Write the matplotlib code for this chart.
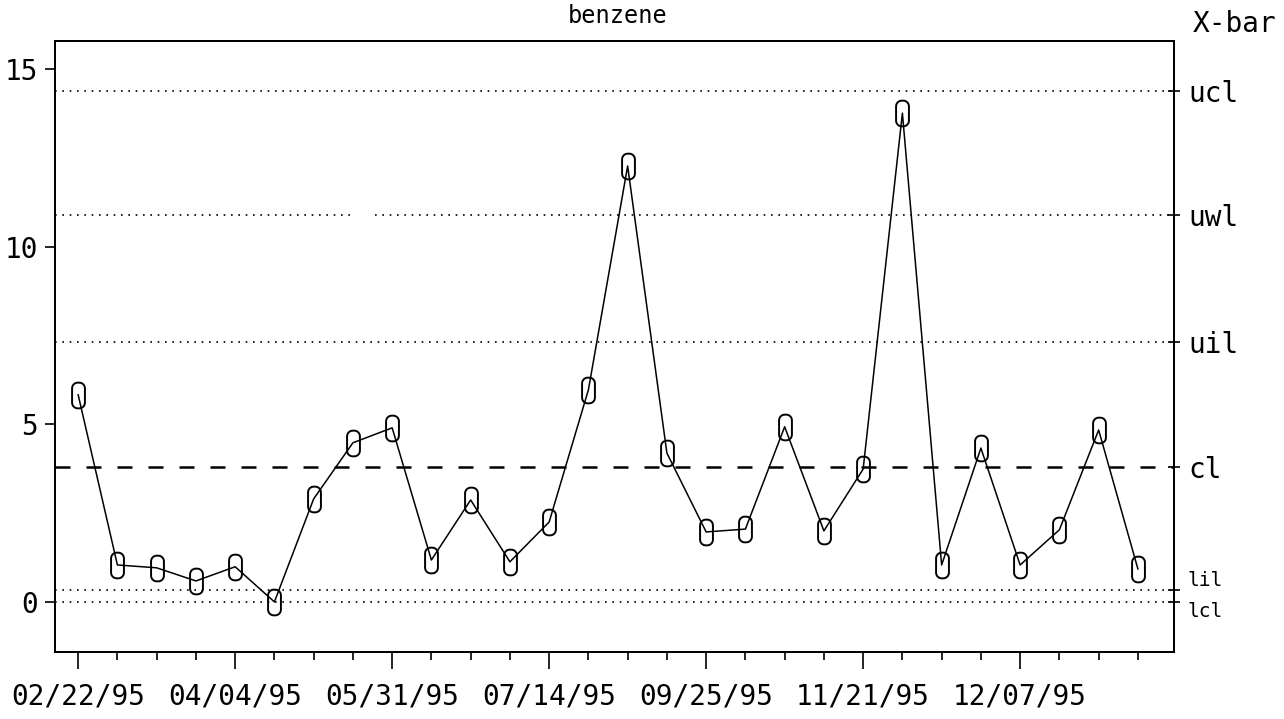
import numpy as np
import matplotlib
matplotlib.use('Agg')
import matplotlib.pyplot as plt
from matplotlib.path import Path

# Datos (benceno, X-bar)
fechas = ['02/22/95', '04/04/95', '05/31/95', '07/14/95', '09/25/95', '11/21/95', '12/07/95']
benceno = [5.83, 1.04, 0.96, 0.59, 0.99, 0.0, 2.9, 4.48, 4.9, 1.18,
           2.87, 1.13, 2.25, 5.97, 12.27, 4.19, 1.97, 2.05, 4.93, 2.0,
           3.74, 13.76, 1.04, 4.33, 1.04, 2.03, 4.84, 0.93]
limites_nombres = ['ucl', 'uwl', 'uil', 'cl', 'lil', 'lcl']
limites_valores = [14.38, 10.89, 7.32, 3.8, 0.34, 0.0]
yticks_izq = [0, 5, 10, 15]


# Marcador tipo "0" de plotter: rectangulo alto con esquinas redondeadas
def marcador_redondeado(w=0.5, h=1.0, r=0.22, n=8):
    pts = []
    centros = [(w/2 - r, h/2 - r, 0), (-w/2 + r, h/2 - r, 90),
               (-w/2 + r, -h/2 + r, 180), (w/2 - r, -h/2 + r, 270)]
    for cx, cy, a0 in centros:
        ang = np.radians(np.linspace(a0, a0 + 90, n))
        pts += list(zip(cx + r*np.cos(ang), cy + r*np.sin(ang)))
    pts.append(pts[0])
    return Path(pts, closed=True)


plt.rcParams['font.family'] = ['DejaVu Sans Mono', 'DejaVu Sans']

fig = plt.figure(figsize=(12.84, 7.19), dpi=100)
ax = fig.add_axes([55/1284, 1 - 652/719, (1174 - 55)/1284, (652 - 41)/719])

x = np.arange(len(benceno))
ax.set_xlim(-0.59, 27.92)
ax.set_ylim(-1.41, 15.79)

# Lineas de control
estilo_punto = dict(color='black', lw=1.2, linestyle=(0, (1, 3.4)))
for nombre, valor in zip(limites_nombres, limites_valores):
    if nombre == 'cl':
        ax.axhline(valor, color='black', lw=1.8, linestyle=(0, (6, 6.4)))
    elif nombre == 'uwl':
        ax.axhline(valor, xmax=0.264, **estilo_punto)
        ax.axhline(valor, xmin=0.286, **estilo_punto)
    else:
        ax.axhline(valor, **estilo_punto)

ax.plot(x, benceno, color='black', lw=1.1, marker=marcador_redondeado(),
        ms=18.5, mfc='none', mec='black', mew=1.4, zorder=3)

# Ejes
for s in ax.spines.values():
    s.set_linewidth(1.4)

ax.set_yticks(yticks_izq)
ax.set_yticklabels(['0', '5', '10', '15'])
ax.tick_params(axis='y', direction='out', length=7, width=1.2, pad=5, labelsize=20)

ax.set_xticks(x[::4])
ax.set_xticklabels(fechas)
ax.set_xticks(x, minor=True)
ax.tick_params(axis='x', which='major', direction='out', length=12, width=1.2,
               pad=10, labelsize=20)
ax.tick_params(axis='x', which='minor', direction='out', length=6, width=1.2)

ax2 = ax.twinx()
ax2.set_ylim(ax.get_ylim())
ax2.set_yticks(limites_valores)
ax2.set_yticklabels(limites_nombres)
ax2.tick_params(axis='y', direction='inout', length=8, width=1.2, pad=6, labelsize=20)
for s in ax2.spines.values():
    s.set_linewidth(1.4)
# lil y lcl quedan casi juntos: se separan un poco
etiquetas = ax2.get_yticklabels()
etiquetas[4].set_fontsize(14)
etiquetas[4].set_va('bottom')
etiquetas[5].set_fontsize(14)
etiquetas[5].set_va('top')

fig.text(618/1284, 1 - 16/719, 'benzene', ha='center', va='center', fontsize=17)
fig.text(1193/1284, 1 - 24/719, 'X-bar', ha='left', va='center', fontsize=20)

plt.savefig('out.png', dpi=100)
